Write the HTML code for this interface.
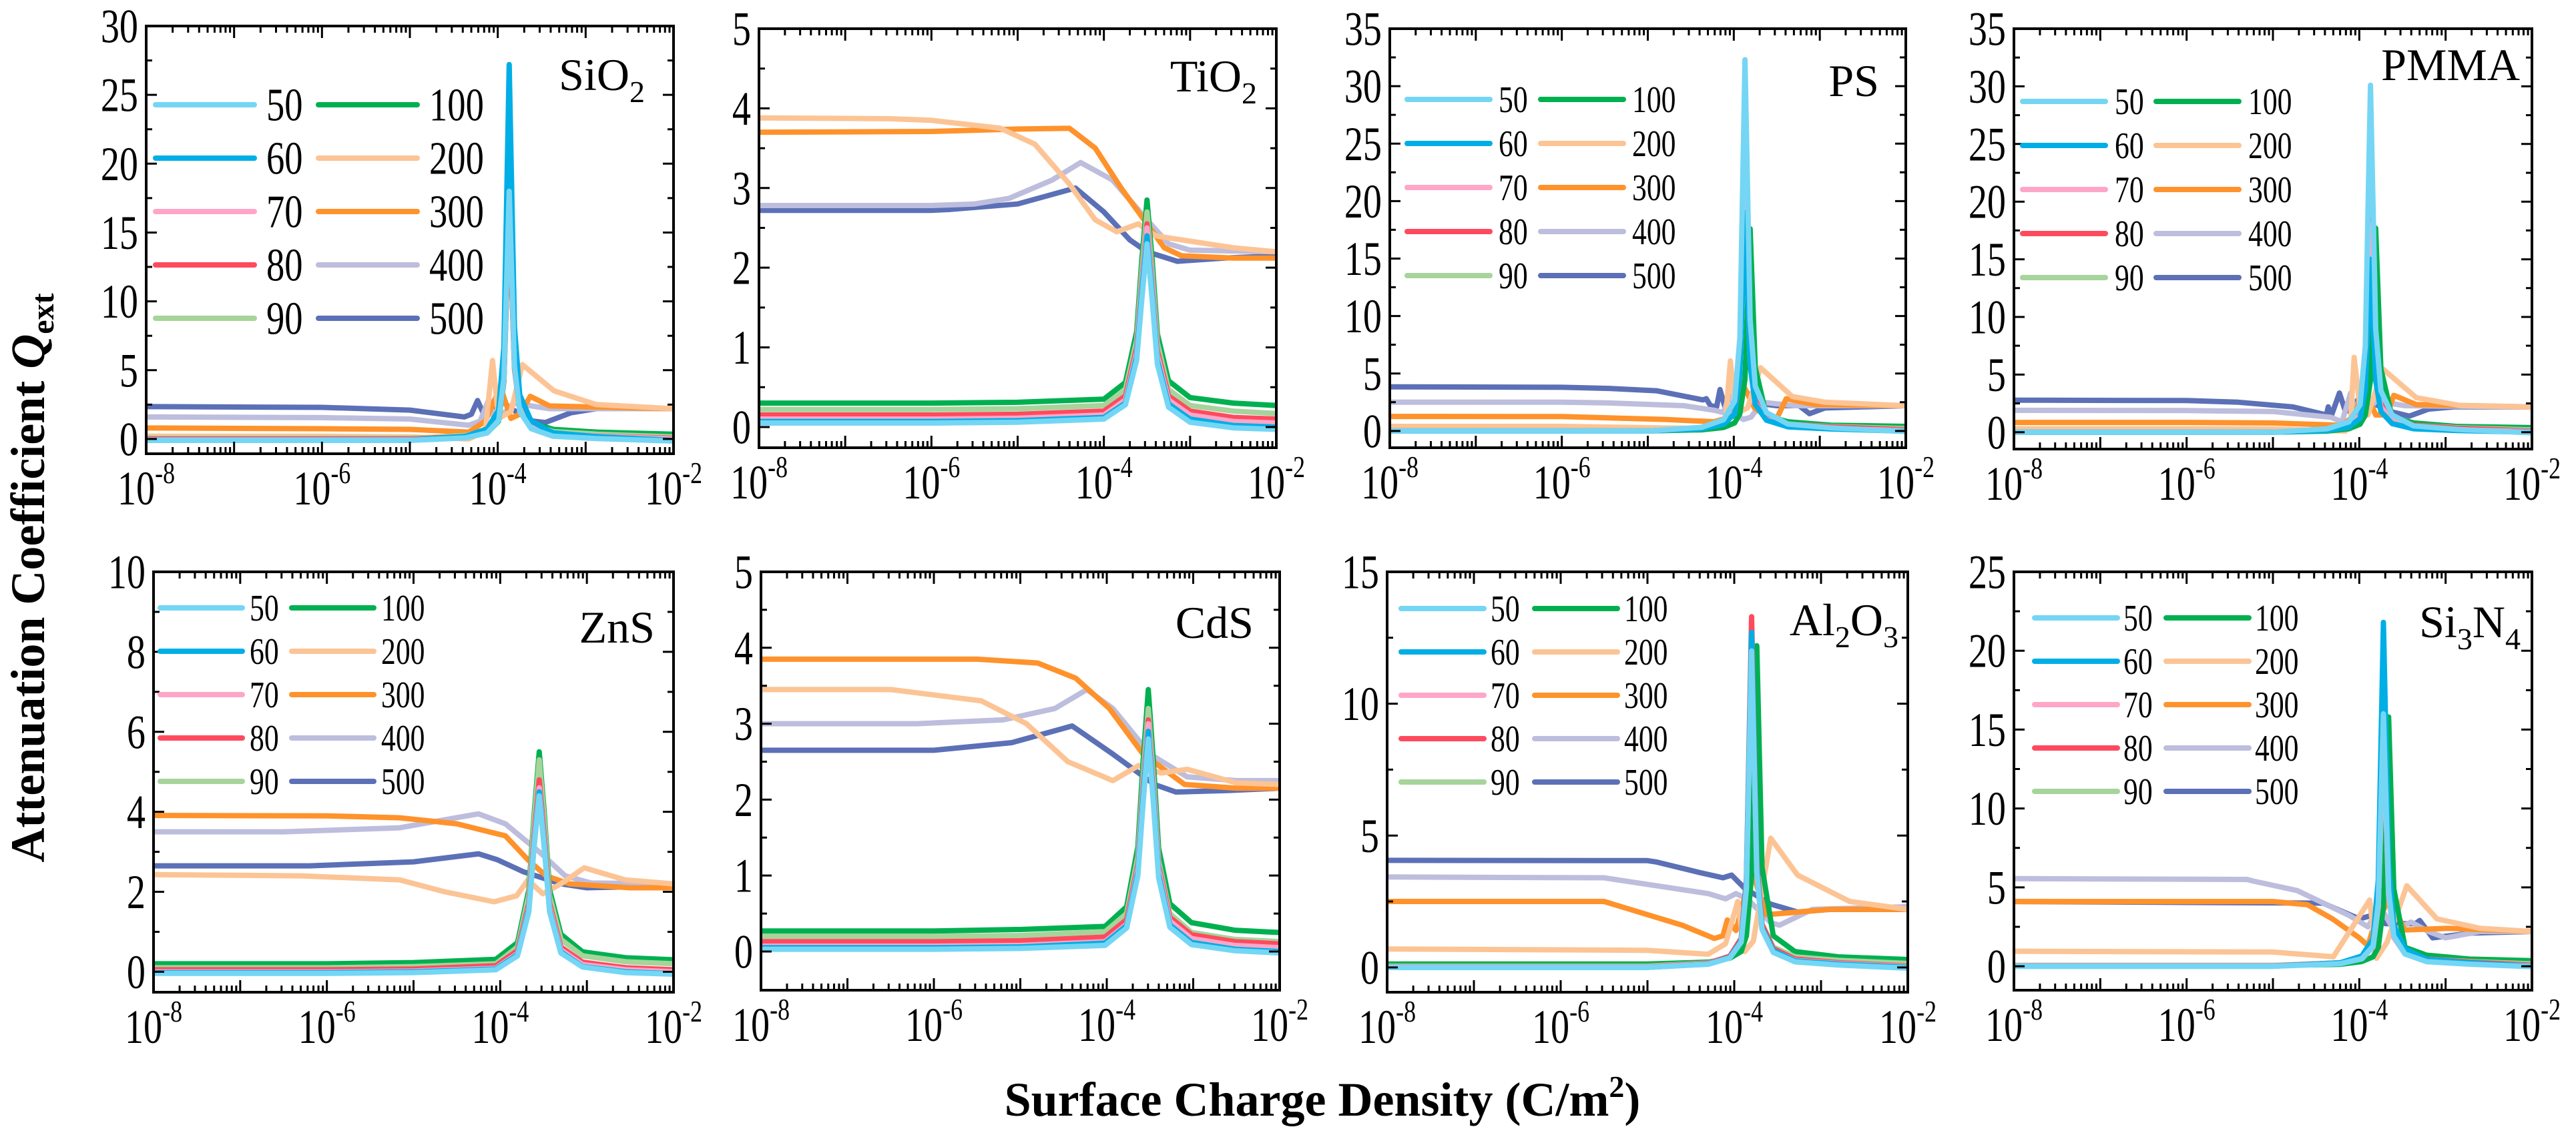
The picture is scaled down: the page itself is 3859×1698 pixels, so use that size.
<!DOCTYPE html>
<html><head><meta charset="utf-8"><style>
html,body{margin:0;padding:0;background:#fff;}
svg{display:block;}
svg text{font-family:"Liberation Serif","Times New Roman",serif;}
</style></head><body>
<svg id="fig" width="3859" height="1698" viewBox="0 0 3859 1698" xmlns="http://www.w3.org/2000/svg" font-family="Liberation Serif, serif">
<rect x="0" y="0" width="3859" height="1698" fill="#fff"/>
<text x="0" y="0" transform="translate(66,866) rotate(-90)" text-anchor="middle" font-weight="bold" font-size="72" font-family="Liberation Serif, serif">Attenuation Coefficient <tspan font-style="italic">Q</tspan><tspan font-size="48" dy="14">ext</tspan></text>
<text x="1981" y="1672" text-anchor="middle" font-weight="bold" font-size="72" font-family="Liberation Serif, serif">Surface Charge Density (C/m<tspan font-size="46" dy="-28">2</tspan><tspan dy="28">)</tspan></text>
</svg>
<script>
// ===== series labels =====
const seriesLabels = ['50','60','70','80','90','100','200','300','400','500'];
const seriesColors = ['#74d6f4','#00aee6','#ffa6c8','#ff4a5e','#a6d49b','#00b050','#fcc495','#ff922b','#bdbddd','#5b70b6'];
const xTickExps = [-8,-6,-4,-2];

// ===== SiO2 =====
const sio2_low_x = [-8,-6,-5,-4.37,-4.12,-3.99,-3.93,-3.87,-3.81,-3.75,-3.62,-3.37,-2.87,-2];
const sio2_s50  = [-0.1,-0.1,-0.1,0.08,0.44,1.35,4.4,18,5.3,2.0,0.75,0.2,0.03,-0.15];
const sio2_s60  = [-0.08,-0.08,-0.08,0.19,0.74,2.1,6.7,27.2,8.1,3.2,1.3,0.45,0.17,-0.1];
const sio2_s70  = [-0.05,-0.05,-0.05,0.16,0.6,1.7,5.3,21.4,6.4,2.6,1.1,0.43,0.21,0.0];
const sio2_s80  = [0,0,0,0.17,0.5,1.4,4.3,17,5.1,2.1,0.9,0.39,0.22,0.05];
const sio2_s90  = [0.05,0.05,0.05,0.25,0.64,1.6,5.0,19.8,6.0,2.5,1.1,0.54,0.35,0.15];
const sio2_s100 = [-0.05,-0.05,-0.05,0.12,0.45,1.3,4.2,16.8,5.3,2.3,1.2,0.7,0.5,0.35];
const sio2_s200_x = [-8,-6,-5,-4.33,-4.14,-4.06,-3.99,-3.85,-3.72,-3.36,-2.88,-2];
const sio2_s200_y = [0.2,0.2,0.15,0.0,0.6,5.7,1.5,2.0,5.4,3.5,2.5,2.2];
const sio2_s300_x = [-8,-6,-5,-4.33,-4.14,-3.97,-3.85,-3.75,-3.63,-3.41,-2];
const sio2_s300_y = [0.8,0.75,0.7,0.5,1.3,3.8,1.5,1.8,3.1,2.4,2.2];
const sio2_s400_x = [-8,-6,-5,-4.33,-4.2,-4.1,-4.03,-3.82,-3.41,-2];
const sio2_s400_y = [1.6,1.55,1.45,1.0,1.3,2.9,1.2,2.6,2.2,2.2];
const sio2_s500_x = [-8,-6,-5,-4.38,-4.3,-4.23,-4.16,-4.08,-3.99,-3.85,-3.6,-3.46,-3.17,-2.88,-2];
const sio2_s500_y = [2.35,2.3,2.1,1.6,1.8,2.8,1.8,2.0,3.0,2.2,1.3,1.2,1.9,2.2,2.2];

// ===== TiO2 =====
const tio2_low_x = [-8,-6,-5,-4,-3.75,-3.62,-3.56,-3.5,-3.44,-3.38,-3.25,-3.0,-2.5,-2];
const tio2_s50  = [0.05,0.05,0.06,0.1,0.28,0.84,1.6,2.3,1.6,0.79,0.25,0.06,-0.01,-0.03];
const tio2_s60  = [0.07,0.07,0.08,0.12,0.3,0.89,1.7,2.4,1.68,0.84,0.29,0.1,0.02,0.0];
const tio2_s70  = [0.1,0.1,0.11,0.15,0.34,0.94,1.78,2.5,1.77,0.9,0.34,0.15,0.07,0.05];
const tio2_s80  = [0.15,0.15,0.16,0.2,0.39,1.0,1.83,2.55,1.82,0.96,0.39,0.2,0.12,0.1];
const tio2_s90  = [0.22,0.22,0.23,0.27,0.47,1.09,1.96,2.7,1.94,1.06,0.47,0.27,0.2,0.17];
const tio2_s100 = [0.3,0.3,0.31,0.35,0.56,1.2,2.1,2.85,2.1,1.17,0.58,0.37,0.3,0.27];
const tio2_s200_x = [-8,-6.5,-6,-5.2,-4.8,-4.4,-4.1,-3.85,-3.6,-3.4,-3.1,-2.5,-2];
const tio2_s200_y = [3.88,3.87,3.85,3.75,3.55,3.05,2.6,2.45,2.55,2.4,2.35,2.25,2.2];
const tio2_s300_x = [-8,-6,-5,-4.4,-4.1,-3.8,-3.5,-3.3,-3.1,-2.5,-2];
const tio2_s300_y = [3.7,3.71,3.74,3.75,3.5,3.0,2.55,2.25,2.15,2.12,2.12];
const tio2_s400_x = [-8,-6,-5.5,-5.1,-4.6,-4.27,-3.9,-3.5,-3.25,-3.0,-2];
const tio2_s400_y = [2.78,2.78,2.8,2.87,3.1,3.32,3.1,2.6,2.3,2.22,2.2];
const tio2_s500_x = [-8,-6,-5.8,-5.0,-4.33,-4.0,-3.7,-3.5,-3.15,-2.6,-2];
const tio2_s500_y = [2.72,2.72,2.73,2.8,3.0,2.7,2.35,2.2,2.08,2.12,2.15];

// ===== PS =====
const ps_low_x = [-8,-6,-5,-4.37,-4.12,-3.99,-3.93,-3.87,-3.81,-3.75,-3.62,-3.37,-2.87,-2];
const ps_s50  = [0,0,0,0.32,0.97,2.6,8.1,32.3,9.7,3.9,1.6,0.6,0.27,-0.05];
const ps_s60  = [0,0,0,0.19,0.57,1.5,4.8,19,5.7,2.3,0.93,0.36,0.17,-0.02];
const ps_s70  = [0,0,0,0.2,0.6,1.6,5,20,6,2.4,1.0,0.42,0.22,0.02];
const ps_s80  = [0,0,0,0.25,0.74,2.0,6.2,24.8,7.5,3.1,1.3,0.6,0.35,0.1];
const ps_s90  = [0,0,0,0.2,0.59,1.6,4.9,19.5,6.0,2.5,1.16,0.59,0.39,0.2];
const ps_s100 = [0,0,0,0.1,0.3,0.7,1.5,4.5,17.6,5.5,1.3,0.8,0.5,0.4];
const ps_s200_x = [-8,-6,-4.23,-4.1,-4.04,-3.98,-3.84,-3.69,-3.32,-2.94,-2];
const ps_s200_y = [0.4,0.4,0.2,0.6,6.1,1.5,2.0,5.5,3.0,2.5,2.2];
const ps_s300_x = [-8,-6,-4.8,-4.23,-4.0,-3.91,-3.76,-3.52,-3.39,-3.06,-2];
const ps_s300_y = [1.26,1.25,1.0,0.8,1.3,4.3,2.0,0.8,2.8,2.3,2.2];
const ps_s400_x = [-8,-6,-5.5,-4.58,-4.23,-4.12,-4.05,-3.95,-3.89,-3.8,-3.67,-3.3,-2];
const ps_s400_y = [2.5,2.5,2.45,2.2,1.8,1.6,3.1,1.3,1.0,1.2,2.5,2.2,2.2];
const ps_s500_x = [-8,-6,-5.45,-4.9,-4.36,-4.32,-4.27,-4.2,-4.16,-4.1,-4.02,-3.87,-3.71,-3.5,-3.24,-3.12,-2.94,-2];
const ps_s500_y = [3.84,3.8,3.7,3.5,2.7,2.8,2.2,2.1,3.6,2.0,1.9,3.5,2.4,2.2,2.2,1.5,2.0,2.2];

// ===== PMMA =====
const pmma_low_x = [-8,-6,-5,-4.37,-4.12,-3.99,-3.93,-3.87,-3.81,-3.75,-3.62,-3.37,-2.87,-2];
const pmma_s50  = [0,0,0,0.3,0.9,2.4,7.5,30.1,9.0,3.6,1.5,0.55,0.25,-0.05];
const pmma_s60  = [0,0,0,0.15,0.45,1.2,3.75,15,4.5,1.8,0.75,0.3,0.15,0];
const pmma_s70  = [0,0,0,0.18,0.54,1.44,4.5,18,5.4,2.2,0.95,0.4,0.22,0.05];
const pmma_s80  = [0,0,0,0.25,0.76,2.0,6.3,25.3,7.6,3.1,1.35,0.6,0.35,0.1];
const pmma_s90  = [0,0,0,0.2,0.6,1.6,5.0,20.2,6.2,2.6,1.2,0.6,0.4,0.2];
const pmma_s100 = [0,0,0,0.1,0.3,0.7,1.5,4.5,17.7,5.5,1.3,0.8,0.5,0.4];
const pmma_s200_x = [-8,-6,-5,-4.16,-4.1,-4.06,-3.99,-3.9,-3.73,-3.34,-2.82,-2];
const pmma_s200_y = [0.3,0.3,0.28,0.1,1.0,6.5,2.0,1.5,5.5,3.0,2.3,2.2];
const pmma_s300_x = [-8,-6,-5,-4.2,-4.05,-3.95,-3.81,-3.68,-3.6,-3.34,-2];
const pmma_s300_y = [0.85,0.85,0.8,0.6,1.5,4.0,1.5,1.5,3.2,2.4,2.2];
const pmma_s400_x = [-8,-6,-5,-4.33,-4.2,-4.1,-4.03,-3.97,-3.81,-3.47,-2];
const pmma_s400_y = [1.9,1.88,1.8,1.3,0.9,3.4,1.2,1.0,2.7,2.3,2.2];
const pmma_s500_x = [-8,-6,-5.4,-4.77,-4.38,-4.36,-4.32,-4.23,-4.16,-4.08,-3.97,-3.81,-3.64,-3.42,-3.2,-2.9,-2];
const pmma_s500_y = [2.78,2.75,2.6,2.2,1.5,2.2,1.5,3.4,1.8,2.0,3.4,2.4,1.8,1.4,2.0,2.2,2.2];

// ===== ZnS =====
const zns_low_x = [-8,-6,-5,-4.05,-3.8,-3.67,-3.61,-3.55,-3.49,-3.43,-3.3,-3.05,-2.55,-2];
const zns_s50  = [-0.04,-0.04,-0.02,0.05,0.4,1.5,3.1,4.4,3.06,1.5,0.47,0.12,-0.02,-0.06];
const zns_s60  = [-0.02,-0.02,0.0,0.07,0.43,1.56,3.14,4.5,3.14,1.54,0.5,0.13,0,-0.05];
const zns_s70  = [0,0,0.02,0.09,0.46,1.61,3.22,4.6,3.22,1.61,0.55,0.18,0.05,0];
const zns_s80  = [0.05,0.05,0.07,0.15,0.53,1.71,3.38,4.8,3.38,1.71,0.62,0.24,0.1,0.05];
const zns_s90  = [0.1,0.1,0.13,0.2,0.62,1.92,3.74,5.3,3.77,1.9,0.81,0.4,0.25,0.2];
const zns_s100 = [0.2,0.2,0.23,0.31,0.73,2.05,3.9,5.5,3.94,2.05,0.94,0.5,0.35,0.3];
const zns_s200_x = [-8,-6.3,-5.16,-4.64,-4.07,-3.81,-3.68,-3.51,-3.3,-3.03,-2.56,-2];
const zns_s200_y = [2.43,2.4,2.3,2.0,1.75,1.9,2.3,1.95,2.2,2.6,2.3,2.2];
const zns_s300_x = [-8,-6,-5.16,-4.5,-3.94,-3.68,-3.47,-3.2,-2.5,-2];
const zns_s300_y = [3.91,3.9,3.85,3.7,3.4,2.8,2.4,2.2,2.1,2.1];
const zns_s400_x = [-8,-6.5,-5.16,-4.64,-4.25,-3.94,-3.55,-3.25,-2.95,-2];
const zns_s400_y = [3.5,3.5,3.6,3.8,3.95,3.7,3.0,2.4,2.22,2.2];
const zns_s500_x = [-8,-6.2,-5.0,-4.25,-4.03,-3.73,-3.3,-3.0,-2];
const zns_s500_y = [2.65,2.65,2.75,2.95,2.8,2.5,2.2,2.1,2.15];

// ===== CdS =====
const cds_low_x = [-8,-6,-5,-4.02,-3.77,-3.64,-3.58,-3.52,-3.46,-3.4,-3.27,-3.02,-2.52,-2];
const cds_s50  = [0.03,0.03,0.04,0.08,0.31,1.0,1.95,2.8,1.95,0.97,0.32,0.09,0.01,-0.02];
const cds_s60  = [0.05,0.05,0.06,0.11,0.34,1.05,2.04,2.9,2.03,1.02,0.35,0.12,0.03,0];
const cds_s70  = [0.07,0.07,0.08,0.13,0.36,1.1,2.1,3.0,2.12,1.08,0.4,0.17,0.08,0.05];
const cds_s80  = [0.13,0.13,0.14,0.19,0.42,1.15,2.17,3.05,2.17,1.13,0.45,0.22,0.13,0.1];
const cds_s90  = [0.2,0.2,0.21,0.26,0.5,1.25,2.3,3.2,2.28,1.2,0.5,0.25,0.16,0.13];
const cds_s100 = [0.27,0.27,0.29,0.33,0.59,1.38,2.5,3.45,2.49,1.36,0.63,0.38,0.28,0.25];
const cds_s200_x = [-8,-6.5,-5.45,-4.93,-4.45,-3.93,-3.63,-3.37,-3.07,-2.5,-2];
const cds_s200_y = [3.45,3.45,3.3,3.0,2.5,2.25,2.45,2.35,2.4,2.22,2.2];
const cds_s300_x = [-8,-5.5,-4.8,-4.36,-3.97,-3.58,-3.1,-2.5,-2];
const cds_s300_y = [3.85,3.85,3.8,3.6,3.2,2.6,2.2,2.15,2.15];
const cds_s400_x = [-8,-6.2,-5.2,-4.6,-4.23,-3.93,-3.5,-3.07,-2.5,-2];
const cds_s400_y = [3.0,3.0,3.05,3.2,3.45,3.2,2.6,2.3,2.25,2.25];
const cds_s500_x = [-8,-6,-5.1,-4.4,-3.93,-3.45,-3.2,-2.6,-2];
const cds_s500_y = [2.65,2.65,2.75,2.97,2.6,2.2,2.1,2.12,2.15];

// ===== Al2O3 =====
const al2o3_low_x = [-8,-6,-5,-4.3,-4.05,-3.92,-3.86,-3.8,-3.74,-3.68,-3.55,-3.3,-2.8,-2];
const al2o3_s50  = [0,0,0,0.12,0.36,0.96,3.0,12,3.6,1.44,0.57,0.21,0.09,-0.03];
const al2o3_s60  = [0,0,0,0.13,0.38,1.0,3.2,12.7,3.8,1.5,0.64,0.25,0.13,0];
const al2o3_s70  = [0.02,0.02,0.02,0.14,0.38,0.98,3.0,12,3.6,1.47,0.63,0.27,0.15,0.03];
const al2o3_s80  = [0.03,0.03,0.03,0.16,0.43,1.1,3.35,13.3,4.0,1.64,0.71,0.32,0.18,0.05];
const al2o3_s90  = [0.05,0.05,0.05,0.17,0.42,1.05,3.16,12.5,3.9,1.63,0.77,0.4,0.27,0.15];
const al2o3_s100 = [0.13,0.13,0.13,0.2,0.35,0.6,1.2,3.5,12.2,3.8,1.2,0.6,0.4,0.3];
const al2o3_s200_x = [-8,-5,-4.3,-4.1,-3.96,-3.88,-3.78,-3.58,-3.27,-2.67,-2];
const al2o3_s200_y = [0.7,0.65,0.5,0.9,2.5,0.6,1.0,4.9,3.5,2.5,2.2];
const al2o3_s300_x = [-8,-5.5,-5.3,-4.6,-4.23,-4.13,-4.08,-3.98,-3.8,-3.63,-2.9,-2];
const al2o3_s300_y = [2.5,2.5,2.3,1.6,1.1,1.2,1.8,1.4,3.7,2.0,2.2,2.2];
const al2o3_s400_x = [-8,-5.5,-5.1,-4.3,-4.1,-3.98,-3.85,-3.58,-3.48,-3.1,-2];
const al2o3_s400_y = [3.43,3.4,3.2,2.8,2.6,2.8,2.6,1.7,1.6,2.2,2.3];
const al2o3_s500_x = [-8,-5,-4.9,-4.4,-4.13,-4.03,-3.88,-3.58,-3.27,-2.9,-2];
const al2o3_s500_y = [4.06,4.05,4.0,3.6,3.4,3.5,3.0,2.4,2.1,2.2,2.2];

// ===== Si3N4 =====
const si3n4_low_x = [-8,-6,-5,-4.22,-3.97,-3.84,-3.78,-3.72,-3.66,-3.6,-3.47,-3.22,-2.72,-2];
const si3n4_s50  = [0,0,0,0.16,0.48,1.28,4,16,4.8,1.9,0.77,0.29,0.13,-0.03];
const si3n4_s60  = [0,0,0,0.22,0.65,1.74,5.45,21.8,6.5,2.6,1.1,0.44,0.22,0];
const si3n4_s70  = [0.02,0.02,0.02,0.17,0.47,1.22,3.77,15,4.5,1.8,0.78,0.33,0.18,0.03];
const si3n4_s80  = [0.03,0.03,0.03,0.22,0.61,1.58,4.88,19.4,5.9,2.4,1.04,0.46,0.26,0.07];
const si3n4_s90  = [0.05,0.05,0.05,0.2,0.5,1.25,3.8,15,4.6,1.9,0.9,0.45,0.3,0.15];
const si3n4_s100 = [0.05,0.05,0.05,0.12,0.3,0.6,1.2,3.8,15.8,4.9,1.2,0.7,0.45,0.35];
const si3n4_s200_x = [-8,-5,-4.3,-3.88,-3.8,-3.68,-3.45,-3.1,-2.6,-2];
const si3n4_s200_y = [0.95,0.9,0.6,4.2,0.5,1.5,5.1,3.0,2.4,2.2];
const si3n4_s300_x = [-8,-5,-4.6,-4.31,-4.0,-3.9,-3.85,-3.64,-3.48,-2.97,-2];
const si3n4_s300_y = [4.1,4.1,3.9,3.0,1.8,1.3,2.2,4.4,2.3,2.4,2.2];
const si3n4_s400_x = [-8,-5.3,-5.23,-4.72,-4.11,-3.9,-3.76,-3.6,-3.4,-3.2,-3.0,-2.6,-2];
const si3n4_s400_y = [5.55,5.5,5.4,4.8,3.2,2.5,3.8,2.3,2.8,2.2,1.8,2.2,2.2];
const si3n4_s500_x = [-8,-4.42,-4.0,-3.8,-3.7,-3.35,-3.3,-3.15,-2.7,-2];
const si3n4_s500_y = [4.1,4.0,3.0,3.3,2.7,2.7,2.9,1.8,2.1,2.2];

const NS = 'http://www.w3.org/2000/svg';
const FONT = 'Liberation Serif, Times New Roman, serif';
const svg = document.getElementById('fig');
function mk(tag, attrs, parent) {
  const e = document.createElementNS(NS, tag);
  for (const k in attrs) e.setAttribute(k, attrs[k]);
  if (tag === 'text') e.setAttribute('font-family', FONT);
  (parent || svg).appendChild(e);
  return e;
}
// condensed text placed at (x,y)
function ctext(x, y, attrs, parent, sxScale) {
  const a = Object.assign({x:0, y:0, transform:'translate(' + x + ',' + y + ') scale(' + sxScale + ',1)'}, attrs);
  return mk('text', a, parent);
}

const panels = [
  {key:'sio2', title:[['SiO',''],['2','sub']], tx:966, ty:135, L:219,R:1009,T:39,B:680, ymin:-1.07,ymax:30, step:5, minor:2.5,
   lowX:sio2_low_x, low:[sio2_s50,sio2_s60,sio2_s70,sio2_s80,sio2_s90,sio2_s100],
   high:[[sio2_s200_x,sio2_s200_y],[sio2_s300_x,sio2_s300_y],[sio2_s400_x,sio2_s400_y],[sio2_s500_x,sio2_s500_y]],
   leg:{lx:233,len:148,off:166,c2:477,y0:157,dy:80,fs:70}},
  {key:'tio2', title:[['TiO',''],['2','sub']], tx:1883, ty:137, L:1137,R:1912,T:43,B:671, ymin:-0.26,ymax:5, step:1, minor:0.5,
   lowX:tio2_low_x, low:[tio2_s50,tio2_s60,tio2_s70,tio2_s80,tio2_s90,tio2_s100],
   high:[[tio2_s200_x,tio2_s200_y],[tio2_s300_x,tio2_s300_y],[tio2_s400_x,tio2_s400_y],[tio2_s500_x,tio2_s500_y]], leg:null},
  {key:'ps', title:[['PS','']], tx:2815, ty:144, L:2082,R:2855,T:43,B:671, ymin:-1.46,ymax:35, step:5, minor:2.5,
   lowX:ps_low_x, low:[ps_s50,ps_s60,ps_s70,ps_s80,ps_s90,ps_s100],
   high:[[ps_s200_x,ps_s200_y],[ps_s300_x,ps_s300_y],[ps_s400_x,ps_s400_y],[ps_s500_x,ps_s500_y]],
   leg:{lx:2108,len:124,off:137,c2:2308,y0:149,dy:66,fs:56}},
  {key:'pmma', title:[['PMMA','']], tx:3775, ty:120, L:3017,R:3793,T:43,B:673, ymin:-1.46,ymax:35, step:5, minor:2.5,
   lowX:pmma_low_x, low:[pmma_s50,pmma_s60,pmma_s70,pmma_s80,pmma_s90,pmma_s100],
   high:[[pmma_s200_x,pmma_s200_y],[pmma_s300_x,pmma_s300_y],[pmma_s400_x,pmma_s400_y],[pmma_s500_x,pmma_s500_y]],
   leg:{lx:3030,len:124,off:138,c2:3230,y0:152,dy:66,fs:56}},
  {key:'zns', title:[['ZnS','']], tx:981, ty:963, L:230,R:1009,T:857,B:1487, ymin:-0.51,ymax:10, step:2, minor:1,
   lowX:zns_low_x, low:[zns_s50,zns_s60,zns_s70,zns_s80,zns_s90,zns_s100],
   high:[[zns_s200_x,zns_s200_y],[zns_s300_x,zns_s300_y],[zns_s400_x,zns_s400_y],[zns_s500_x,zns_s500_y]],
   leg:{lx:240,len:123,off:134,c2:437,y0:911,dy:65,fs:56}},
  {key:'cds', title:[['CdS','']], tx:1878, ty:956, L:1140,R:1917,T:857,B:1484, ymin:-0.51,ymax:5, step:1, minor:0.5,
   lowX:cds_low_x, low:[cds_s50,cds_s60,cds_s70,cds_s80,cds_s90,cds_s100],
   high:[[cds_s200_x,cds_s200_y],[cds_s300_x,cds_s300_y],[cds_s400_x,cds_s400_y],[cds_s500_x,cds_s500_y]], leg:null},
  {key:'al2o3', title:[['Al',''],['2','sub'],['O',''],['3','sub']], tx:2844, ty:952, L:2078,R:2858,T:857,B:1487, ymin:-0.94,ymax:15, step:5, minor:2.5,
   lowX:al2o3_low_x, low:[al2o3_s50,al2o3_s60,al2o3_s70,al2o3_s80,al2o3_s90,al2o3_s100],
   high:[[al2o3_s200_x,al2o3_s200_y],[al2o3_s300_x,al2o3_s300_y],[al2o3_s400_x,al2o3_s400_y],[al2o3_s500_x,al2o3_s500_y]],
   leg:{lx:2099,len:124,off:134,c2:2299,y0:912,dy:65,fs:56}},
  {key:'si3n4', title:[['Si',''],['3','sub'],['N',''],['4','sub']], tx:3776, ty:955, L:3017,R:3793,T:857,B:1484, ymin:-1.52,ymax:25, step:5, minor:2.5,
   lowX:si3n4_low_x, low:[si3n4_s50,si3n4_s60,si3n4_s70,si3n4_s80,si3n4_s90,si3n4_s100],
   high:[[si3n4_s200_x,si3n4_s200_y],[si3n4_s300_x,si3n4_s300_y],[si3n4_s400_x,si3n4_s400_y],[si3n4_s500_x,si3n4_s500_y]],
   leg:{lx:3048,len:124,off:133,c2:3245,y0:926,dy:65,fs:56}}
];

panels.forEach(function(p){
  const sx = v => p.L + (v + 8) / 6 * (p.R - p.L);
  const sy = v => p.B - (v - p.ymin) / (p.ymax - p.ymin) * (p.B - p.T);
  const g = mk('g', {});
  
  
  const clipId = 'clip-' + p.key;
  const cp = mk('clipPath', {id: clipId}, g);
  mk('rect', {x:p.L, y:p.T, width:p.R-p.L, height:p.B-p.T}, cp);
  const plot = mk('g', {'clip-path':'url(#' + clipId + ')'}, g);
  
  

  function drawLine(xs, ys, idx) {
    const pts = xs.map((x, i) => sx(x).toFixed(1) + ',' + sy(ys[i]).toFixed(1)).join(' ');
    const pl = mk('polyline', {points: pts, fill:'none', stroke: seriesColors[idx], 'stroke-width': 8, 'stroke-linejoin':'round', 'stroke-linecap':'round'}, plot);
    
    
  }
  for (let i = 3; i >= 0; i--) drawLine(p.high[i][0], p.high[i][1], 6 + i);
  for (let i = 5; i >= 0; i--) drawLine(p.lowX, p.low[i], i);

  const fr = mk('rect', {x:p.L, y:p.T, width:p.R-p.L, height:p.B-p.T, fill:'none', stroke:'#000', 'stroke-width':4}, g);
  
  

  let d = '';
  for (let e = -8; e <= -2; e++) {
    const x = sx(e);
    d += 'M' + x + ',' + p.B + 'v-18M' + x + ',' + p.T + 'v18';
    if (e < -2) for (let k = 2; k <= 9; k++) {
      const xm = sx(e + Math.log10(k));
      d += 'M' + xm + ',' + p.B + 'v-10M' + xm + ',' + p.T + 'v10';
    }
  }
  for (let v = 0; v <= p.ymax + 1e-9; v += p.minor) {
    const y = sy(v);
    const major = Math.abs(v / p.step - Math.round(v / p.step)) < 1e-6;
    const len = major ? 16 : 9;
    d += 'M' + p.L + ',' + y + 'h' + len + 'M' + p.R + ',' + y + 'h-' + len;
  }
  const tk = mk('path', {d: d, stroke:'#000', 'stroke-width':3, fill:'none'}, g);
  
  

  for (let v = 0; v <= p.ymax + 1e-9; v += p.step) {
    const t = ctext(p.L - 12, sy(v), {'text-anchor':'end', 'dominant-baseline':'central', 'font-size':72}, g, 0.78);
    t.textContent = String(Math.round(v));
    
    
  }
  xTickExps.forEach(function(e){
    const t = ctext(sx(e), p.B + 76, {'text-anchor':'middle', 'font-size':72}, g, 0.78);
    
    
    const a = mk('tspan', {}, t); a.textContent = '10';
    const b = mk('tspan', {'font-size':46, dy:-32}, t); b.textContent = String(e);
  });

  const tt = mk('text', {x:p.tx, y:p.ty, 'text-anchor':'end', 'font-size':68}, g);
  
  
  let shift = 0;
  p.title.forEach(function(part){
    const ts = mk('tspan', {}, tt);
    if (part[1] === 'sub') { ts.setAttribute('font-size', 46); ts.setAttribute('dy', 18 - shift); shift = 18; }
    else if (shift) { ts.setAttribute('dy', -shift); shift = 0; }
    ts.textContent = part[0];
  });

  if (p.leg) {
    const lg = mk('g', {}, g);
    
    
    for (let i = 0; i < 10; i++) {
      const col = i < 5 ? 0 : 1;
      const row = i % 5;
      const x0 = col ? p.leg.c2 : p.leg.lx;
      const y = p.leg.y0 + row * p.leg.dy;
      const ln = mk('line', {x1:x0, y1:y, x2:x0 + p.leg.len, y2:y, stroke:seriesColors[i], 'stroke-width':8, 'stroke-linecap':'round'}, lg);
      
      
      const lt = ctext(x0 + p.leg.off, y, {'dominant-baseline':'central', 'font-size':p.leg.fs}, lg, 0.78);
      lt.textContent = seriesLabels[i];
      
      
    }
  }
});
</script>
</body></html>
